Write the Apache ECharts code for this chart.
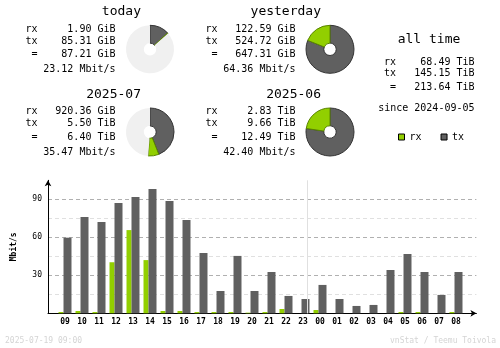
<!DOCTYPE html>
<html>
<head>
<meta charset="utf-8">
<script src="https://cdn.jsdelivr.net/npm/echarts@6/dist/echarts.min.js"></script>
<style>
  html, body { margin: 0; padding: 0; background: #fff; }
  #chart { width: 500px; height: 348px; }
</style>
</head>
<body>
<div id="chart"></div>
<script>
// Summary periods
const periodNames  = ['today', 'yesterday', '2025-07', '2025-06'];
const periodRx     = [1.90, 122.59, 920.36, 2.83];
const periodRxUnit = ['GiB', 'GiB', 'GiB', 'TiB'];
const periodTx     = [85.31, 524.72, 5.50, 9.66];
const periodTxUnit = ['GiB', 'GiB', 'TiB', 'TiB'];
const periodTotal  = [87.21, 647.31, 6.40, 12.49];
const periodTotalUnit = ['GiB', 'GiB', 'TiB', 'TiB'];
const periodRate   = [23.12, 64.36, 35.47, 42.40];

// All-time totals (TiB)
const allTimeRx = 68.49;
const allTimeTx = 145.15;
const allTimeTotal = 213.64;
const allTimeSince = '2024-09-05';

// Hourly average rates, Mbit/s
const hourLabels = ['09','10','11','12','13','14','15','16','17','18','19','20',
                    '21','22','23','00','01','02','03','04','05','06','07','08'];
const hourRx = [1.0, 1.8, 1.0, 40.3, 65.7, 42.0, 1.8, 1.8, 1.0, 1.0, 1.0, 0.5,
                1.0, 3.4, 0.0, 2.6, 0.0, 0.0, 0.0, 0.0, 1.0, 1.0, 0.0, 1.0];
const hourTx = [59.7, 76.0, 72.1, 87.1, 91.8, 98.2, 88.7, 73.7, 47.6, 17.6, 45.3, 17.6,
                32.6, 13.7, 11.3, 22.4, 11.3, 5.8, 6.6, 34.2, 46.8, 32.6, 14.5, 32.6];

const footerLeft = '2025-07-19 09:00';
const footerRight = 'vnStat / Teemu Toivola';

const RX = '#92CF00', TX = '#606060';
const RX_EDGE = '#5a8400', TX_EDGE = '#343434';
const PIE_BG = '#f0f0f0';
const MONO = '"DejaVu Sans Mono", "Liberation Mono", monospace';

const toGiB = (v, unit) => unit === 'TiB' ? v * 1024 : v;
const fmt = (v, unit) => v.toFixed(2) + ' ' + unit;

// Layout of the four summary blocks
const colX = [0, 180];
const blockRows = [
  { title: 12.0, rows: [29.2, 41.3, 54.7, 69.2], pieY: 49.3 },
  { title: 94.3, rows: [111.2, 123.8, 137.2, 152.1], pieY: 132.0 }
];

const graphics = [];
const pies = [];

function txt(x, y, text, size, align, color, weight) {
  graphics.push({
    type: 'text', x: x, y: y, silent: true,
    style: {
      text: text, fill: color || '#000', fontFamily: MONO, fontSize: size,
      fontWeight: weight || 'normal', align: align || 'left', verticalAlign: 'middle'
    }
  });
}

periodNames.forEach((name, i) => {
  const col = colX[i % 2];
  const blk = blockRows[Math.floor(i / 2)];
  txt(141 + col, blk.title, name, 13, 'right');
  txt(25.5 + col, blk.rows[0], 'rx', 10);
  txt(25.5 + col, blk.rows[1], 'tx', 10);
  txt(31.5 + col, blk.rows[2], '=', 10);
  txt(115.5 + col, blk.rows[0], fmt(periodRx[i], periodRxUnit[i]), 10, 'right');
  txt(115.5 + col, blk.rows[1], fmt(periodTx[i], periodTxUnit[i]), 10, 'right');
  txt(115.5 + col, blk.rows[2], fmt(periodTotal[i], periodTotalUnit[i]), 10, 'right');
  txt(115.5 + col, blk.rows[3], periodRate[i].toFixed(2) + ' Mbit/s', 10, 'right');

  // pie scaled against the larger of the two periods in its row
  const pair = [Math.floor(i / 2) * 2, Math.floor(i / 2) * 2 + 1];
  const ref = Math.max(...pair.map(k => toGiB(periodTotal[k], periodTotalUnit[k])));
  const rx = toGiB(periodRx[i], periodRxUnit[i]);
  const tx = toGiB(periodTx[i], periodTxUnit[i]);
  const rest = Math.max(0, ref - rx - tx);
  pies.push({
    type: 'pie', silent: true, animation: false,
    center: [150 + col, blk.pieY], radius: [6.2, 24],
    startAngle: 90, clockwise: true, minAngle: 0,
    label: { show: false }, labelLine: { show: false },
    emphasis: { disabled: true },
    data: [
      { name: 'tx', value: tx, itemStyle: { color: TX, borderColor: TX_EDGE, borderWidth: 1 } },
      { name: 'rx', value: rx, itemStyle: { color: RX, borderColor: RX_EDGE, borderWidth: 1 } },
      { name: 'rest', value: rest, itemStyle: { color: PIE_BG, borderWidth: 0 } }
    ]
  });
});

// all time block
txt(429, 39.5, 'all time', 13, 'center');
txt(384, 62.2, 'rx', 10);
txt(384, 73.8, 'tx', 10);
txt(390, 87.8, '=', 10);
txt(474.5, 62.2, fmt(allTimeRx, 'TiB'), 10, 'right');
txt(474.5, 73.8, fmt(allTimeTx, 'TiB'), 10, 'right');
txt(474.5, 87.8, fmt(allTimeTotal, 'TiB'), 10, 'right');
txt(474.5, 108, 'since ' + allTimeSince, 10, 'right');

// footer
txt(5, 340.5, footerLeft, 8, 'left', '#d4d4d4');
txt(496, 340.5, footerRight, 8, 'right', '#d4d4d4');

const dayBreak = hourLabels.indexOf('00') - 0.5;

const chart = echarts.init(document.getElementById('chart'), null, { renderer: 'canvas' });
chart.setOption({
  animation: false,
  backgroundColor: '#fff',
  textStyle: { fontFamily: MONO },
  legend: {
    data: ['rx', 'tx'], left: 398, top: 132, padding: 0, icon: 'rect',
    itemWidth: 6, itemHeight: 6, itemGap: 19, selectedMode: false,
    itemStyle: { borderColor: '#000', borderWidth: 1, borderRadius: 0 },
    textStyle: { fontFamily: MONO, fontSize: 10, color: '#000' }
  },
  grid: { left: 48, top: 180.3, width: 428.4, height: 133, containLabel: false },
  xAxis: {
    type: 'value', min: -1, max: 24.2, interval: 1,
    axisLine: { show: true, symbol: ['none', 'arrow'], symbolSize: [5, 6],
                lineStyle: { color: '#000', width: 1 } },
    axisTick: { show: false },
    splitLine: { show: false },
    axisLabel: {
      margin: 5, fontFamily: MONO, fontSize: 8, fontWeight: 'bold', color: '#000',
      formatter: v => Number.isInteger(v) && hourLabels[v] ? hourLabels[v] : ''
    }
  },
  yAxis: {
    type: 'value', min: 0, max: 105, interval: 15,
    name: 'Mbit/s', nameLocation: 'middle', nameRotate: 90, nameGap: 30,
    nameTextStyle: { fontFamily: MONO, fontSize: 8, fontWeight: 'bold', color: '#000' },
    axisLine: { show: true, onZero: false, symbol: ['none', 'arrow'], symbolSize: [5, 6],
                lineStyle: { color: '#000', width: 1 } },
    axisTick: { show: false },
    axisLabel: {
      margin: 6, fontFamily: MONO, fontSize: 8, color: '#000',
      formatter: v => (v > 0 && v < 105 && v % 30 === 0) ? String(v) : ''
    },
    splitLine: {
      show: true,
      lineStyle: {
        type: [4, 3], width: 1,
        color: ['rgba(0,0,0,0)', '#e0e0e0', '#b0b0b0', '#e0e0e0', '#b0b0b0',
                '#e0e0e0', '#b0b0b0', 'rgba(0,0,0,0)']
      }
    }
  },
  graphic: graphics,
  series: [
    {
      type: 'bar', name: 'rx', barWidth: 5, barGap: '0%',
      itemStyle: { color: RX },
      data: hourRx.map((v, i) => [i, v]),
      markLine: {
        silent: true, symbol: 'none', label: { show: false },
        lineStyle: { color: '#e0e0e0', type: 'solid', width: 1 },
        data: [{ xAxis: dayBreak }]
      }
    },
    {
      type: 'bar', name: 'tx', barWidth: 8,
      itemStyle: { color: TX },
      data: hourTx.map((v, i) => [i, v])
    }
  ].concat(pies)
});
</script>
</body>
</html>
